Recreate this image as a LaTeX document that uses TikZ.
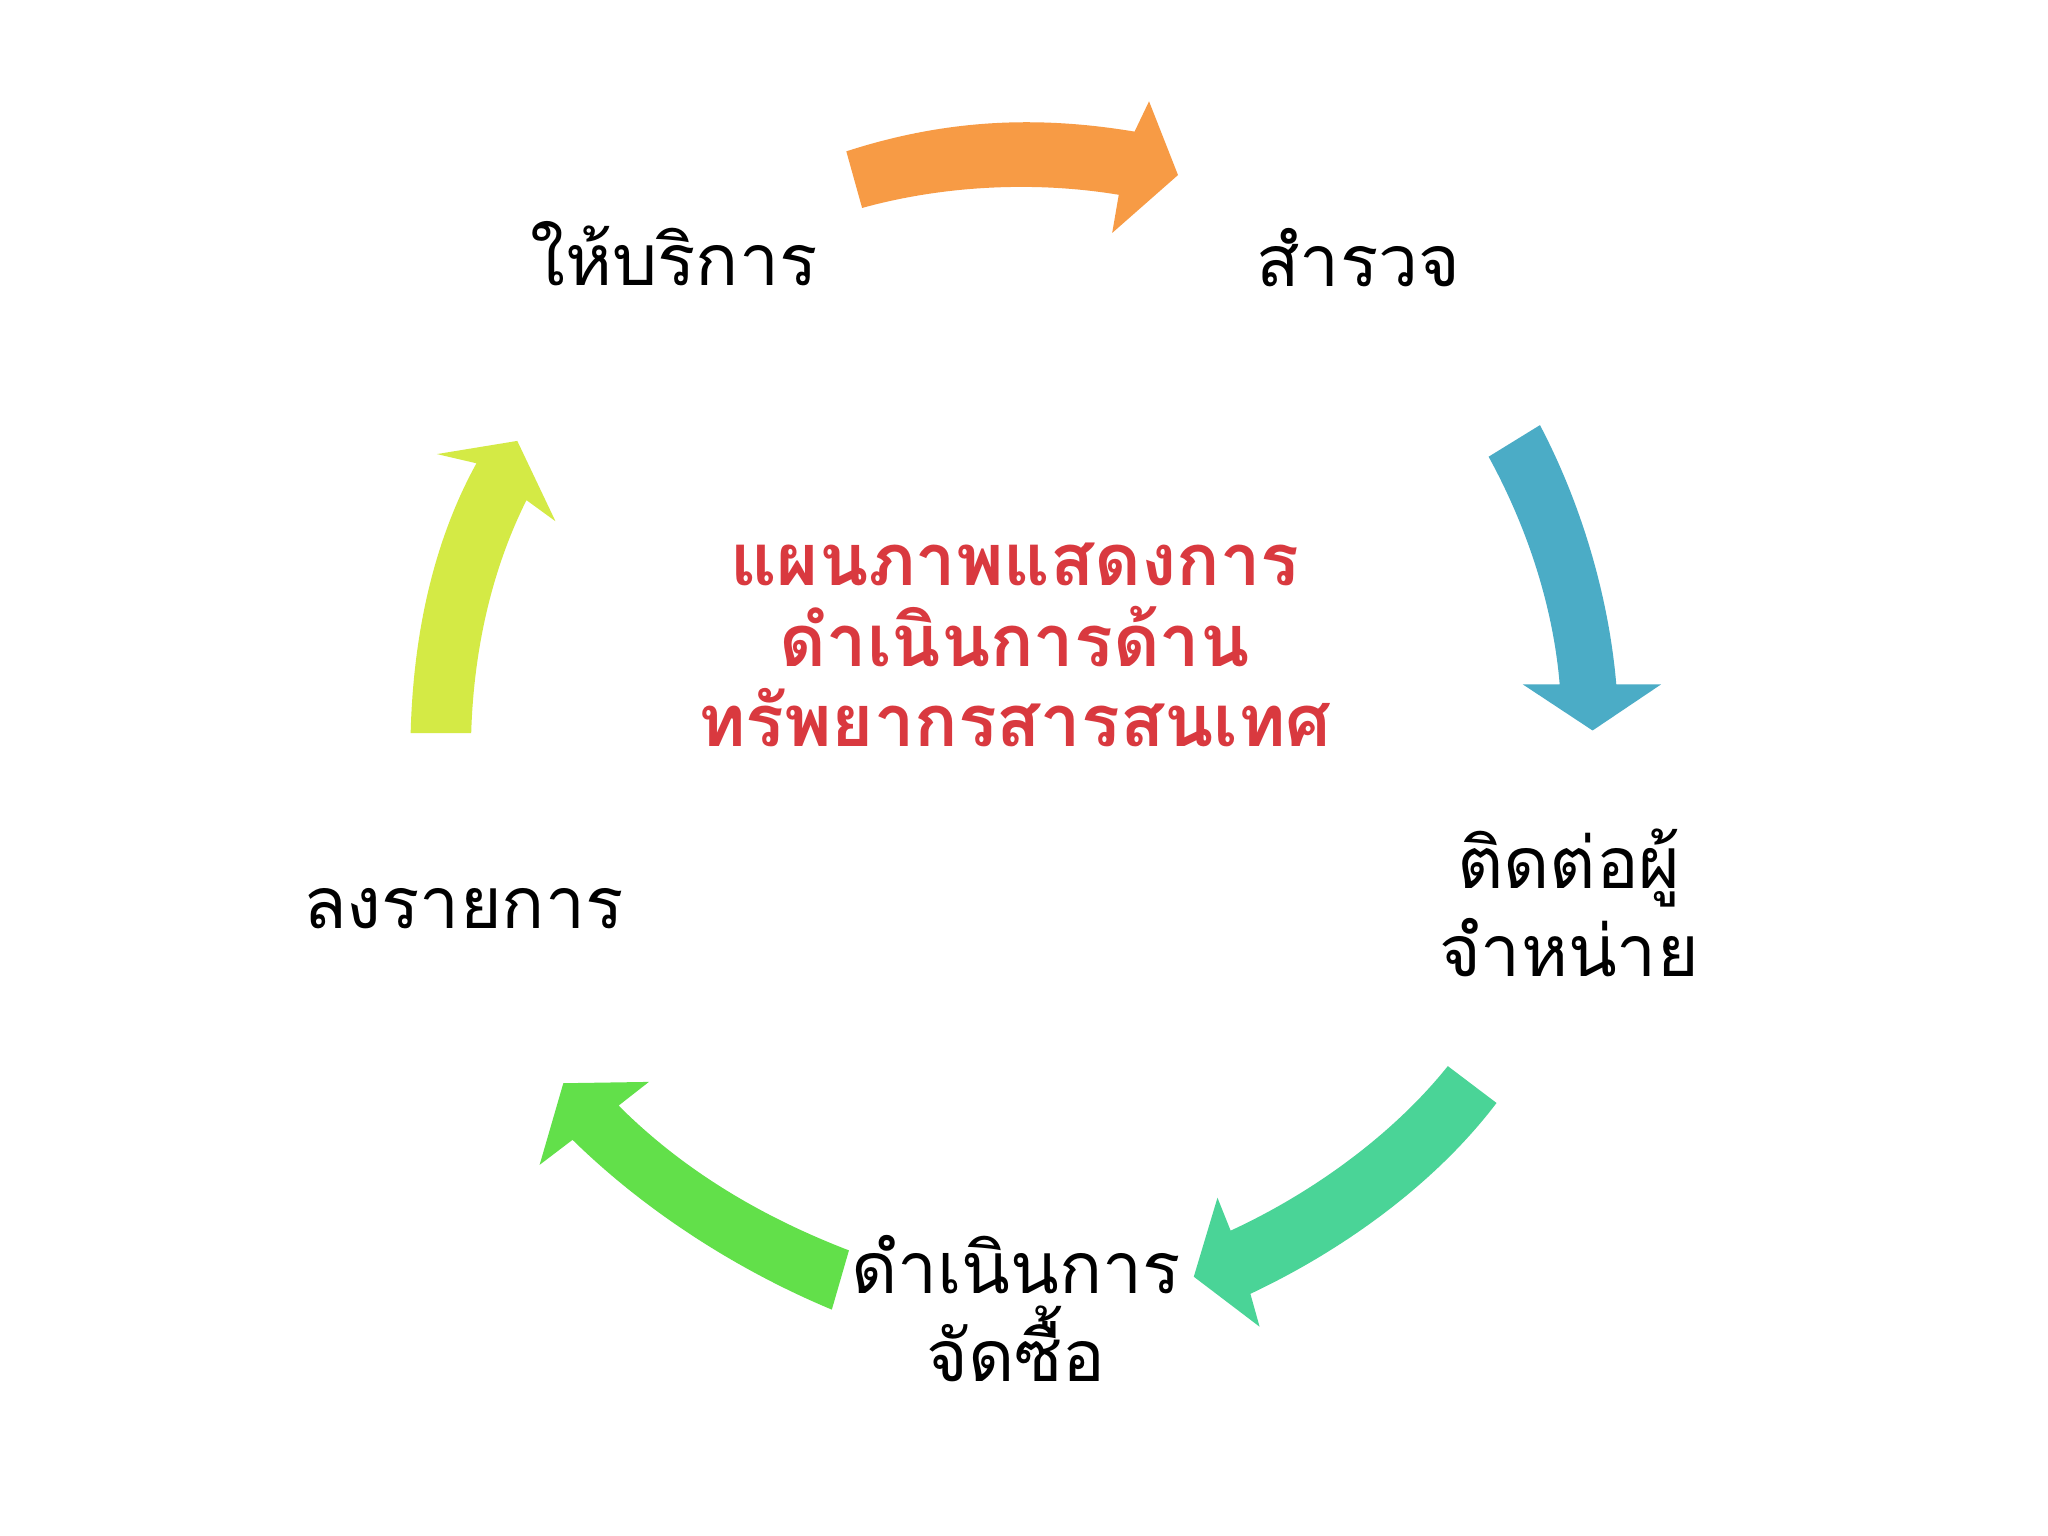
\documentclass[tikz,border=0pt]{standalone}
\usepackage{fontspec}
\newfontfamily\thaifont[Script=Thai]{Loma}
\definecolor{cOr}{HTML}{F79B45}
\definecolor{cBl}{HTML}{4BACC6}
\definecolor{cTe}{HTML}{4AD497}
\definecolor{cGr}{HTML}{62E04A}
\definecolor{cYe}{HTML}{D4EA45}
\definecolor{cRed}{HTML}{D9393F}
\begin{document}
\begin{tikzpicture}[x=0.01316cm,y=-0.01316cm,
  lbl/.style={font=\thaifont\fontsize{20.3}{25}\selectfont, align=center, text=black},
  ttl/.style={font=\thaifont\bfseries\fontsize{20.5}{23}\selectfont, align=center, text=cRed}]
\useasboundingbox (0,0) rectangle (1556,1167);
\fill[white] (0,0) rectangle (1556,1167);
\fill[cOr] (643,115) .. controls (720,90) and (790,88) .. (862,100) -- (873,77) -- (895,133) -- (845,177) -- (850,148) .. controls (790,138) and (720,140) .. (655,158) -- cycle;
\fill[cBl] (1131,347) .. controls (1160,400) and (1180,460) .. (1185,520) -- (1157,520) -- (1210,555) -- (1262,520) -- (1228,520) .. controls (1222,450) and (1200,380) .. (1170,323) -- cycle;
\fill[cTe] (1100,810) .. controls (1060,860) and (1000,905) .. (935,935) -- (925,910) -- (907,970) -- (957,1008) -- (950,983) .. controls (1020,950) and (1090,900) .. (1137,838) -- cycle;
\fill[cGr] (645,950) .. controls (580,925) and (520,890) .. (470,840) -- (493,822) -- (428,823) -- (410,885) -- (435,866) .. controls (490,920) and (560,965) .. (632,995) -- cycle;
\fill[cYe] (312,557) .. controls (314,480) and (330,410) .. (362,352) -- (332,345) -- (393,335) -- (422,396) -- (400,380) .. controls (375,430) and (360,490) .. (358,557) -- cycle;
\node[lbl] (a) at (512,193) {ให้บริการ};
\node[lbl] (b) at (1032,196) {สำรวจ};
\node[lbl] (c) at (1192,686) {ติดต่อผู้\\จำหน่าย};
\node[lbl] (d) at (772,994) {ดำเนินการ\\จัดซื้อ};
\node[lbl] (e) at (352,690) {ลงรายการ};
\node[ttl] (t) at (771,490) {แผนภาพแสดงการ\\ดำเนินการด้าน\\ทรัพยากรสารสนเทศ};
\end{tikzpicture}
\end{document}
